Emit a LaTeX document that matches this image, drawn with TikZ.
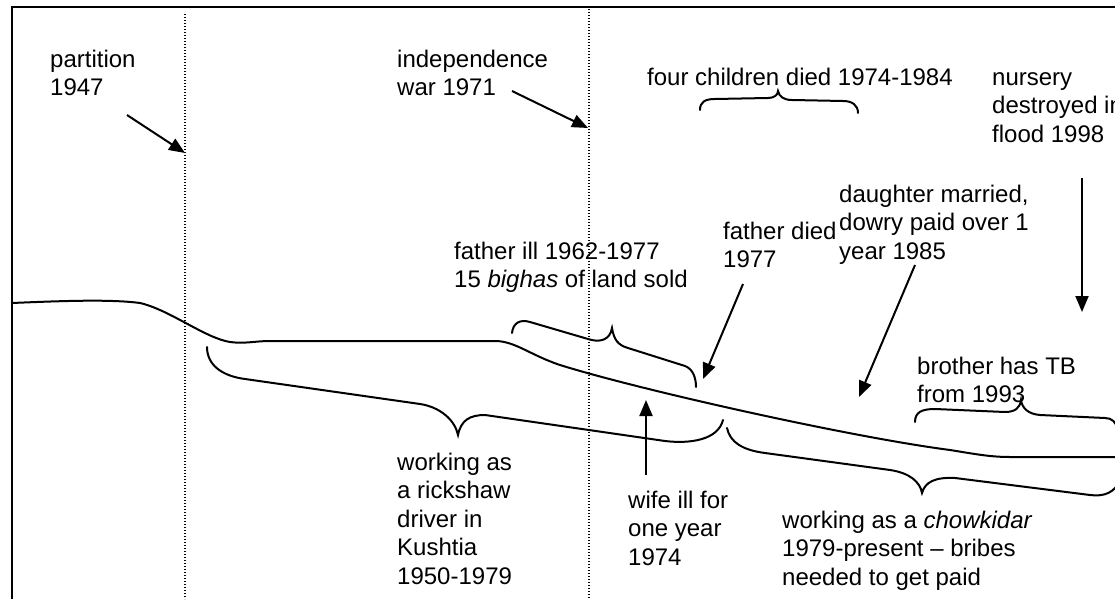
\documentclass[tikz,border=0pt]{standalone}
\usepackage{fontspec}
\setmainfont{Liberation Sans}
\usetikzlibrary{arrows.meta}
\begin{document}
\begin{tikzpicture}[x=1pt,y=-1pt,
  txt/.style={anchor=north west, inner sep=0pt, align=left,
              font=\fontsize{24}{28.5}\selectfont},
  lifeline/.style={line width=2pt, line cap=round},
  brace/.style={line width=2pt, line cap=round},
  pointer/.style={line width=2pt, -{Triangle[length=16pt,width=13pt]}},
  era/.style={line width=1.1pt, dash pattern=on 1.1pt off 1.9pt},
  frame/.style={line width=2.2pt}]
\useasboundingbox (0,0) rectangle (1115,599);
\clip (0,0) rectangle (1115,599);

% frame
\draw[frame] (12,599) -- (12,7) -- (1115,7);

% historical era boundaries
\draw[era] (185,14) -- (185,599);
\draw[era] (589,9) -- (589,599);

% labels
\node[txt] (partition) at (50,47) {\strut partition\\1947};
\node[txt] (independence) at (397,47) {\strut independence\\war 1971};
\node[txt] (children) at (647,65) {\strut four children died 1974-1984};
\node[txt] (nursery) at (992,65) {\strut nursery\\destroyed in\\flood 1998};
\node[txt] (daughter) at (839,182) {\strut daughter married,\\dowry paid over 1\\year 1985};
\node[txt] (fatherdied) at (723,219) {\strut father died\\1977};
\node[txt] (fatherill) at (454,239) {\strut father ill 1962-1977\\15 \textit{bighas} of land sold};
\node[txt] (brother) at (917,354) {\strut brother has TB\\from 1993};
\node[txt] (rickshaw) at (397,450) {\strut working as\\a rickshaw\\driver in\\Kushtia\\1950-1979};
\node[txt] (wife) at (628,488) {\strut wife ill for\\one year\\1974};
\node[txt] (chowkidar) at (782,508) {\strut working as a \textit{chowkidar}\\1979-present -- bribes\\needed to get paid};

% the life line
\draw[lifeline] (12,303) .. controls (60,301) and (110,299) .. (140,303)
  .. controls (170,310) and (205,338) .. (230,342)
  .. controls (245,344) and (255,341) .. (270,341)
  -- (495,341)
  .. controls (515,341) and (530,355) .. (560,365)
  .. controls (640,390) and (850,437) .. (950,450)
  .. controls (975,454) and (990,457) .. (1010,457)
  -- (1115,457);

% braces
\draw[brace] (700,110) .. controls (700,102) and (705,99) .. (715,99)
  -- (768,98) .. controls (774,98) and (778,95) .. (778,91)
  .. controls (779,96) and (783,100) .. (792,100)
  -- (843,101) .. controls (852,101) and (858,105) .. (858,113);

\draw[brace] (512,333) .. controls (513,323) and (520,319) .. (530,322)
  -- (588,339) .. controls (600,343) and (610,340) .. (612,328)
  .. controls (614,340) and (618,345) .. (628,348)
  -- (685,366) .. controls (693,369) and (696,378) .. (696,387);

\draw[brace] (207,347) .. controls (207,365) and (222,376) .. (245,379)
  -- (420,404) .. controls (440,407) and (455,420) .. (458,435)
  .. controls (461,420) and (470,415) .. (485,415)
  -- (665,441) .. controls (690,444) and (718,440) .. (723,420);

\draw[brace] (727,428) .. controls (730,442) and (742,450) .. (765,453)
  -- (890,470) .. controls (910,473) and (920,482) .. (922,493)
  .. controls (925,482) and (935,477) .. (955,478)
  -- (1090,495) .. controls (1105,497) and (1115,492) .. (1120,480);

\draw[brace] (915,422) .. controls (915,412) and (922,409) .. (935,409)
  -- (1005,412) .. controls (1015,412) and (1020,408) .. (1021,400)
  .. controls (1022,408) and (1028,414) .. (1040,415)
  -- (1105,418) .. controls (1112,418) and (1116,422) .. (1118,430);

% pointers
\coordinate (partTail) at (127,115);   \coordinate (partHead) at (185,153);
\coordinate (indTail) at (512,91);     \coordinate (indHead) at (588,128);
\coordinate (nurTail) at (1082,178);   \coordinate (nurHead) at (1082,312);
\coordinate (dauTail) at (915,265);    \coordinate (dauHead) at (859,397);
\coordinate (fdTail) at (743,284);     \coordinate (fdHead) at (703,379);
\coordinate (wifeTail) at (646,475);   \coordinate (wifeHead) at (646,400);

\draw[pointer] (partTail) -- (partHead);
\draw[pointer] (indTail) -- (indHead);
\draw[pointer] (nurTail) -- (nurHead);
\draw[pointer] (dauTail) -- (dauHead);
\draw[pointer] (fdTail) -- (fdHead);
\draw[pointer] (wifeTail) -- (wifeHead);
\end{tikzpicture}
\end{document}
